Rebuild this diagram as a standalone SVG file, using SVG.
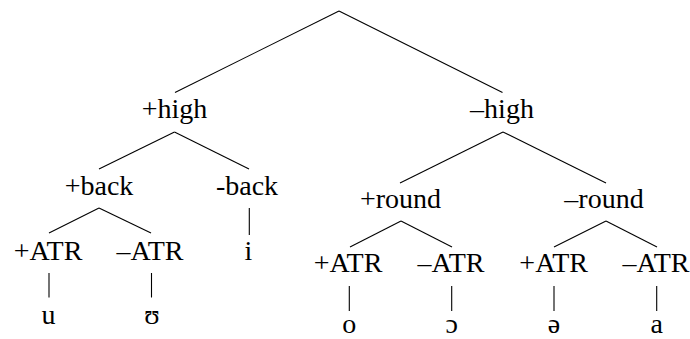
<svg xmlns="http://www.w3.org/2000/svg" width="690" height="339" viewBox="0 0 690 339">
<style>
text{font-family:"Liberation Serif","Times New Roman","DejaVu Serif",serif;font-size:28px;fill:#000;text-anchor:middle}
.c line{stroke:#000;stroke-width:1.1;fill:none}
</style>
<rect width="690" height="339" fill="#fff"/>
<g class="c" id="connectors">
<line x1="339" y1="11" x2="175" y2="92.5"/>
<line x1="339" y1="11" x2="502.5" y2="92.5"/>
<line x1="174.5" y1="132" x2="99" y2="169"/>
<line x1="174.5" y1="132" x2="249" y2="169"/>
<line x1="249.3" y1="208" x2="249.3" y2="235"/>
<line x1="99" y1="208" x2="49" y2="233"/>
<line x1="99" y1="208" x2="151" y2="233"/>
<line x1="49" y1="273" x2="49" y2="297.5"/>
<line x1="151.5" y1="273" x2="151.5" y2="297.5"/>
<line x1="503" y1="132" x2="400" y2="183"/>
<line x1="503" y1="132" x2="606" y2="183"/>
<line x1="401" y1="221" x2="350" y2="247"/>
<line x1="401" y1="221" x2="452" y2="247"/>
<line x1="606" y1="221" x2="554" y2="247"/>
<line x1="606" y1="221" x2="657" y2="247"/>
<line x1="349.3" y1="286" x2="349.3" y2="311"/>
<line x1="451.7" y1="286" x2="451.7" y2="311"/>
<line x1="554" y1="286" x2="554" y2="311"/>
<line x1="656.7" y1="286" x2="656.7" y2="311"/>
</g>
<g id="n-plus-high"><text x="174.5" y="118">+high</text></g>
<g id="n-minus-high"><text x="502" y="118">–high</text></g>
<g id="n-plus-back"><text x="99" y="195">+back</text></g>
<g id="n-minus-back"><text x="247" y="195">-back</text></g>
<g id="n-i"><text x="248.5" y="260">i</text></g>
<g id="n-plus-atr-1"><text x="48" y="260">+ATR</text></g>
<g id="n-minus-atr-1"><text x="150" y="260">–ATR</text></g>
<g id="n-u"><text x="48.5" y="323.5">u</text></g>
<g id="n-upsilon"><text x="152" y="323.5">ʊ</text></g>
<g id="n-plus-round"><text x="400.5" y="207.5">+round</text></g>
<g id="n-minus-round"><text x="604" y="207.5">–round</text></g>
<g id="n-plus-atr-2"><text x="348" y="272">+ATR</text></g>
<g id="n-minus-atr-2"><text x="451" y="272">–ATR</text></g>
<g id="n-plus-atr-3"><text x="553.7" y="272">+ATR</text></g>
<g id="n-minus-atr-3"><text x="656" y="272">–ATR</text></g>
<g id="n-o"><text x="349.3" y="333">o</text></g>
<g id="n-open-o"><text x="451.7" y="333">ɔ</text></g>
<g id="n-schwa"><text x="554" y="333">ə</text></g>
<g id="n-a"><text x="656.7" y="333">a</text></g>
</svg>
